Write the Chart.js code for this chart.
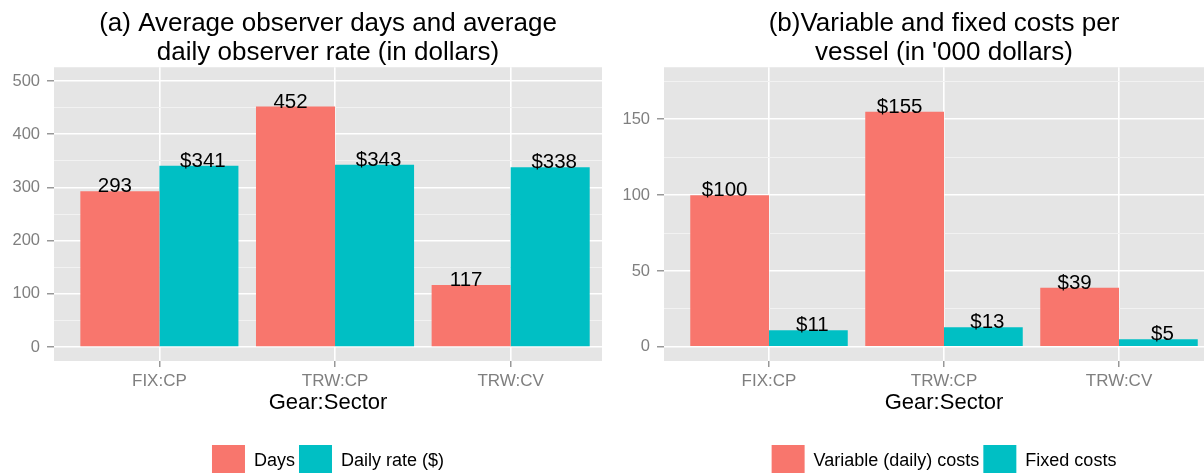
<!DOCTYPE html>
<html>
<head>
<meta charset="utf-8">
<title>Observer days and costs</title>
<script src="https://cdn.jsdelivr.net/npm/chart.js@4/dist/chart.umd.min.js"></script>
<style>
    html, body { margin: 0; padding: 0; background: #fff; }
    #wrap { position: relative; width: 1204px; height: 473px; overflow: hidden; }
    #wrap canvas { position: absolute; top: 0; }
    #chartA { left: 0; }
    #chartB { left: 604px; }
</style>
</head>
<body>
<div id="wrap">
    <canvas id="chartA" width="602" height="488"></canvas>
    <canvas id="chartB" width="620" height="488"></canvas>
</div>
<script>
var categories = ['FIX:CP', 'TRW:CP', 'TRW:CV'];

// panel (a)
var observerDays = [293, 452, 117];
var dailyRate = [341, 343, 338];
var ticksA = [0, 100, 200, 300, 400, 500];
var minorA = [50, 150, 250, 350, 450];

// panel (b), '000 dollars
var variableCosts = [100, 155, 39];
var fixedCosts = [11, 13, 5];
var ticksB = [0, 50, 100, 150];
var minorB = [25, 75, 125, 175];

var RED = '#F8766D';
var TEAL = '#00BFC4';
var GREY = '#7F7F7F';
var FONT = '"Liberation Sans", Arial, sans-serif';

function points(values) {
    return values.map(function(v, i) {
        return {x: i, y: v};
    });
}

var panelBackground = {
    id: 'panelBackground',
    beforeDraw: function(chart) {
        var a = chart.chartArea;
        var ctx = chart.ctx;
        ctx.save();
        ctx.fillStyle = '#E5E5E5';
        ctx.fillRect(a.left, a.top, a.right - a.left, a.bottom - a.top);
        ctx.restore();
    }
};

var barLabels = {
    id: 'barLabels',
    afterDatasetsDraw: function(chart) {
        var ctx = chart.ctx;
        ctx.save();
        ctx.font = '20.5px ' + FONT;
        ctx.fillStyle = '#000';
        ctx.textAlign = 'center';
        ctx.textBaseline = 'alphabetic';
        chart.data.datasets.forEach(function(ds, d) {
            var shift = d === 0 ? -5 : 4;
            chart.getDatasetMeta(d).data.forEach(function(bar, i) {
                ctx.fillText(ds.prefix + ds.data[i].y, bar.x + shift, bar.y + 1);
            });
        });
        ctx.restore();
    }
};

function makeChart(id, cfg) {
    var isMinor = function(c) {
        return c.tick && cfg.minor.indexOf(c.tick.value) >= 0;
    };
    return new Chart(document.getElementById(id), {
        type: 'bar',
        data: {
            datasets: [{
                label: cfg.names[0],
                data: points(cfg.series[0]),
                prefix: cfg.prefixes[0],
                backgroundColor: RED,
                borderWidth: 0
            }, {
                label: cfg.names[1],
                data: points(cfg.series[1]),
                prefix: cfg.prefixes[1],
                backgroundColor: TEAL,
                borderWidth: 0
            }]
        },
        options: {
            responsive: false,
            animation: false,
            layout: { padding: 0, autoPadding: false },
            datasets: { bar: { categoryPercentage: 0.9, barPercentage: 1 } },
            scales: {
                x: {
                    type: 'linear',
                    min: -0.6,
                    max: cfg.xMax,
                    offset: false,
                    afterBuildTicks: function(scale) {
                        scale.ticks = categories.map(function(c, i) { return {value: i}; });
                    },
                    afterFit: function(scale) { scale.height = 80; },
                    ticks: {
                        callback: function(v) { return categories[v]; },
                        color: GREY,
                        font: { family: FONT, size: 17 },
                        padding: 4,
                        autoSkip: false,
                        maxRotation: 0
                    },
                    grid: {
                        color: '#FFFFFF',
                        lineWidth: 1.6,
                        offset: false,
                        tickLength: 6,
                        tickColor: GREY,
                        tickWidth: 1.2
                    },
                    border: { display: false },
                    title: {
                        display: true,
                        text: 'Gear:Sector',
                        color: '#000',
                        font: { family: FONT, size: 22, lineHeight: 1.2 },
                        padding: { top: 0, bottom: 25 }
                    }
                },
                y: {
                    min: cfg.yMin,
                    max: cfg.yMax,
                    afterBuildTicks: function(scale) {
                        scale.ticks = cfg.major.concat(cfg.minor).sort(function(a, b) { return a - b; })
                            .map(function(v) { return {value: v}; });
                    },
                    afterFit: function(scale) { scale.width = cfg.yWidth; },
                    ticks: {
                        callback: function(v) { return cfg.minor.indexOf(v) >= 0 ? '' : v; },
                        color: GREY,
                        font: { family: FONT, size: 16.5 },
                        padding: 7,
                        autoSkip: false
                    },
                    grid: {
                        color: function(c) { return isMinor(c) ? '#F2F2F2' : '#FFFFFF'; },
                        lineWidth: function(c) { return isMinor(c) ? 1 : 1.6; },
                        tickLength: 7,
                        tickColor: function(c) { return isMinor(c) ? 'rgba(0,0,0,0)' : GREY; },
                        tickWidth: 1.2
                    },
                    border: { display: false }
                }
            },
            plugins: {
                title: {
                    display: true,
                    text: cfg.title,
                    fullSize: false,
                    color: '#000',
                    font: { family: FONT, size: 26, weight: 'normal', lineHeight: 1.12 },
                    padding: { top: 9, bottom: 0 }
                },
                legend: {
                    position: 'bottom',
                    fullSize: false,
                    labels: {
                        boxWidth: 33,
                        boxHeight: 33,
                        padding: 4,
                        color: '#000',
                        font: { family: FONT, size: 18 }
                    }
                },
                tooltip: { enabled: false }
            }
        },
        plugins: [panelBackground, barLabels]
    });
}

makeChart('chartA', {
    title: ['(a) Average observer days and average', 'daily observer rate (in dollars)'],
    names: ['Days', 'Daily rate ($)'],
    series: [observerDays, dailyRate],
    prefixes: ['', '$'],
    major: ticksA,
    minor: minorA,
    yMin: -26,
    yMax: 526,
    xMax: 2.52,
    yWidth: 54
});

makeChart('chartB', {
    title: ['(b)Variable and fixed costs per', 'vessel (in \'000 dollars)'],
    names: ['Variable (daily) costs', 'Fixed costs'],
    series: [variableCosts, fixedCosts],
    prefixes: ['$', '$'],
    major: ticksB,
    minor: minorB,
    yMin: -9.3,
    yMax: 184.3,
    xMax: 2.6,
    yWidth: 60
});
</script>
</body>
</html>
